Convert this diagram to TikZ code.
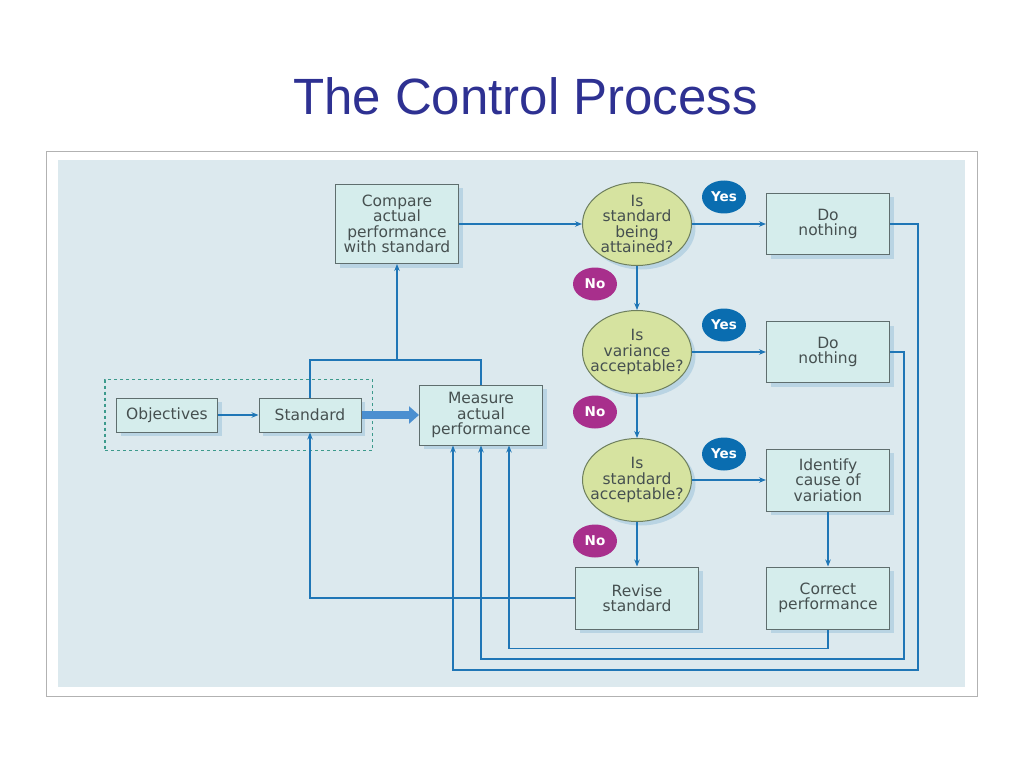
\documentclass[tikz,border=0pt]{standalone}
\usepackage{fontspec}
\setmainfont{DejaVu Sans}
\newfontfamily\titlefont{Liberation Sans}
\usepackage{xcolor}
\usetikzlibrary{shapes.geometric, arrows.meta, positioning, fit, shadows}
\definecolor{navy}{HTML}{2E3192}
\definecolor{panel}{HTML}{DCE9EE}
\definecolor{boxfill}{HTML}{D5EDEC}
\definecolor{boxline}{HTML}{5F6E6E}
\definecolor{qfill}{HTML}{D6E3A0}
\definecolor{qline}{HTML}{6E7F5E}
\definecolor{flow}{HTML}{1F76B6}
\definecolor{fat}{HTML}{4B8FD0}
\definecolor{yesblue}{HTML}{0A6DB0}
\definecolor{nomag}{HTML}{A82F8C}
\definecolor{dashteal}{HTML}{3C9A8C}
\definecolor{txt}{HTML}{465050}

\begin{document}
\begin{tikzpicture}[
  x=1pt, y=-1pt,
  font=\fontsize{15.5}{15.5}\selectfont,
  box/.style={rectangle, draw=boxline, fill=boxfill, line width=1pt,
              align=center, text=txt, inner sep=0pt,
              drop shadow={shadow xshift=4pt, shadow yshift=-4pt,
                           fill=flow, opacity=0.18}},
  ask/.style={ellipse, draw=qline, fill=qfill, line width=1pt,
              align=center, text=txt, inner xsep=-10pt, inner ysep=-8pt,
              minimum width=109pt, minimum height=83pt,
              drop shadow={shadow xshift=4pt, shadow yshift=-4pt,
                           fill=flow, opacity=0.18}},
  tag/.style={ellipse, inner sep=0pt, minimum width=44pt, minimum height=33pt,
              text=white, font=\fontsize{13.5}{14}\selectfont\bfseries},
  yes/.style={tag, fill=yesblue},
  no/.style={tag, fill=nomag},
  arr/.style={-{Stealth[length=7pt, width=5.5pt]}, draw=flow, line width=1.6pt},
  ln/.style={draw=flow, line width=1.6pt},
]
  \useasboundingbox (0,0) rectangle (1024,767);

  % frame and panel
  \draw[gray!60, fill=white] (46,151) rectangle (977,696);
  \fill[panel] (58,160) rectangle (965,687);

  \node[text=navy, font=\titlefont\fontsize{51}{55}\selectfont]
    (ttl) at (525.5,96) {The Control Process};

  % boxes
  \node[box, minimum width=123pt, minimum height=79pt] (cmp) at (397,224)
    {Compare\\actual\\performance\\with standard};
  \node[box, minimum width=101pt, minimum height=34pt] (obj) at (167,415) {Objectives};
  \node[box, minimum width=102pt, minimum height=34pt] (std) at (310,415) {Standard};
  \node[box, minimum width=123pt, minimum height=60pt] (mea) at (481,415)
    {Measure\\actual\\performance};
  \node[draw=dashteal, line width=1.3pt, dash pattern=on 3pt off 3pt,
        inner xsep=11pt, inner ysep=18pt, fit=(obj)(std)] (grp) {};

  % questions
  \node[ask] (q1) at (637,224) {Is\\standard\\being\\attained?};
  \node[ask] (q2) at (637,352) {Is\\variance\\acceptable?};
  \node[ask] (q3) at (637,480) {Is\\standard\\acceptable?};

  \node[box, minimum width=123pt, minimum height=61pt] (do1) at (828,224) {Do\\nothing};
  \node[box, minimum width=123pt, minimum height=61pt] (do2) at (828,352) {Do\\nothing};
  \node[box, minimum width=123pt, minimum height=62pt] (idc) at (828,480)
    {Identify\\cause of\\variation};
  \node[box, minimum width=123pt, minimum height=62pt] (cor) at (828,598)
    {Correct\\performance};
  \node[box, minimum width=123pt, minimum height=62pt] (rev) at (637,598)
    {Revise\\standard};

  % yes / no tags
  \node[yes] (y1) at (724,197) {Yes};
  \node[yes] (y2) at (724,325) {Yes};
  \node[yes] (y3) at (724,454) {Yes};
  \node[no] (n1) at (595,284) {No};
  \node[no] (n2) at (595,412) {No};
  \node[no] (n3) at (595,541) {No};

  % main flow
  \draw[arr] (obj) -- (std);
  \draw[-{Triangle[length=10pt, width=17pt]}, draw=fat, line width=8pt]
    (std.east) -- (mea.west);
  \coordinate (jn) at (cmp.south |- 0,360);
  \draw[ln] (std.north) |- (jn) -| (mea.north);
  \draw[arr] (jn) -- (cmp.south);
  \draw[arr] (cmp.east) -- (q1.west);
  \draw[arr] (q1) -- (do1);
  \draw[arr] (q1) -- (q2);
  \draw[arr] (q2) -- (do2);
  \draw[arr] (q2) -- (q3);
  \draw[arr] (q3) -- (idc);
  \draw[arr] (q3) -- (rev);
  \draw[arr] (idc) -- (cor);

  % feedback loops
  \draw[arr] (rev.west) -| (std.south);
  \draw[arr] (cor.south) -- ++(0,19) -| ([xshift=28pt]mea.south);
  \draw[arr] (do2.east) -- ++(14,0) -- ++(0,307) -| (mea.south);
  \draw[arr] (do1.east) -- ++(28,0) -- ++(0,446) -| ([xshift=-28pt]mea.south);
\end{tikzpicture}
\end{document}
